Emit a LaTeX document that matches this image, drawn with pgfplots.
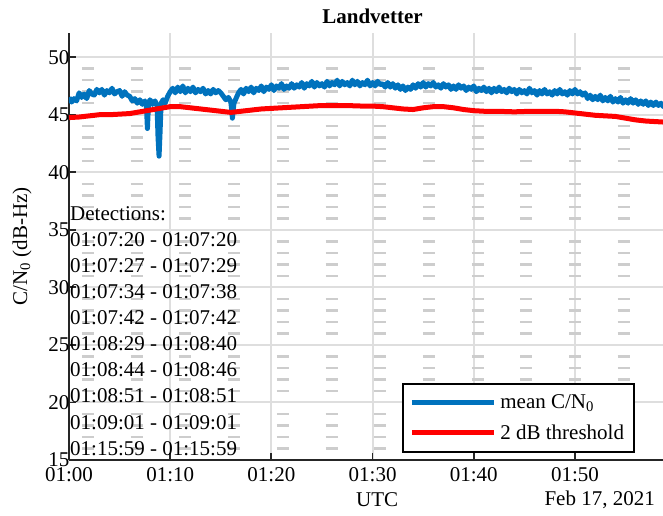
\documentclass[border=0pt]{standalone}
\usepackage{fontspec}
\setmainfont{Liberation Serif}
\usepackage{pgfplots}
\pgfplotsset{compat=1.18}
\definecolor{mblue}{RGB}{0,114,189}
\definecolor{gridmaj}{RGB}{222,222,222}
\definecolor{gridmin}{RGB}{205,205,205}
\newcommand\fs{\fontsize{21bp}{26bp}\selectfont}

\pgfplotstableread{
t cn0
0.00 46.5
0.25 46.1
0.50 46.4
0.75 46.2
1.00 46.9
1.25 46.5
1.50 46.8
1.75 46.4
2.00 47.1
2.25 46.8
2.50 46.7
2.75 47.2
3.00 46.9
3.25 47.2
3.50 46.7
3.75 47.1
4.00 46.9
4.25 47.3
4.50 46.8
4.75 47.0
5.00 47.1
5.25 46.6
5.50 47.0
5.75 46.7
6.00 46.6
6.25 46.2
6.50 46.4
6.75 46.0
7.00 46.3
7.25 45.9
7.50 46.2
7.65 45.8
7.75 43.8
7.85 45.9
8.00 46.3
8.25 45.9
8.50 46.2
8.70 45.8
8.80 43.0
8.90 41.4
9.00 43.5
9.10 46.0
9.30 46.3
9.50 46.0
9.75 46.6
10.00 47.0
10.25 47.3
10.50 46.9
10.75 47.4
11.00 47.0
11.25 47.5
11.50 46.9
11.75 47.3
12.00 47.0
12.25 47.4
12.50 46.9
12.75 47.2
13.00 47.0
13.25 47.3
13.50 46.8
13.75 47.1
14.00 46.8
14.25 47.2
14.50 46.9
14.75 47.1
15.00 46.9
15.25 46.6
15.50 46.3
15.75 46.5
16.00 46.1
16.15 44.7
16.30 46.0
16.50 46.4
16.75 46.9
17.00 47.2
17.25 46.8
17.50 47.3
17.75 47.0
18.00 47.4
18.25 46.9
18.50 47.3
18.75 47.1
19.00 47.5
19.25 47.0
19.50 47.4
19.75 47.2
20.00 47.6
20.25 47.1
20.50 47.5
20.75 47.3
21.00 47.7
21.25 47.2
21.50 47.5
21.75 47.3
22.00 47.7
22.25 47.3
22.50 47.6
22.75 47.4
23.00 47.8
23.25 47.3
23.50 47.7
23.75 47.5
24.00 47.9
24.25 47.4
24.50 47.8
24.75 47.5
25.00 47.7
25.25 47.4
25.50 47.9
25.75 47.5
26.00 47.8
26.25 47.6
26.50 48.0
26.75 47.5
27.00 47.9
27.25 47.6
27.50 47.8
27.75 47.5
28.00 48.0
28.25 47.6
28.50 47.9
28.75 47.5
29.00 47.8
29.25 47.6
29.50 48.0
29.75 47.5
30.00 47.8
30.25 47.5
30.50 47.9
30.75 47.6
31.00 47.7
31.25 47.4
31.50 47.8
31.75 47.4
32.00 47.7
32.25 47.3
32.50 47.6
32.75 47.2
33.00 47.5
33.25 47.1
33.50 47.4
33.75 47.2
34.00 47.6
34.25 47.3
34.50 47.7
34.75 47.4
35.00 47.8
35.25 47.4
35.50 47.7
35.75 47.5
36.00 47.8
36.25 47.4
36.50 47.6
36.75 47.3
37.00 47.7
37.25 47.4
37.50 47.6
37.75 47.2
38.00 47.5
38.25 47.2
38.50 47.6
38.75 47.3
39.00 47.5
39.25 47.1
39.50 47.4
39.75 47.2
40.00 47.5
40.25 47.0
40.50 47.3
40.75 47.1
41.00 47.4
41.25 47.0
41.50 47.3
41.75 46.9
42.00 47.3
42.25 47.0
42.50 47.4
42.75 47.0
43.00 47.2
43.25 46.9
43.50 47.3
43.75 47.0
44.00 47.2
44.25 46.8
44.50 47.2
44.75 46.9
45.00 47.1
45.25 46.8
45.50 47.3
45.75 46.9
46.00 47.1
46.25 46.7
46.50 47.1
46.75 46.8
47.00 47.2
47.25 46.8
47.50 47.0
47.75 46.7
48.00 47.1
48.25 46.8
48.50 47.2
48.75 46.8
49.00 47.0
49.25 46.7
49.50 47.1
49.75 46.8
50.00 47.2
50.25 46.8
50.50 47.0
50.75 46.7
51.00 46.9
51.25 46.4
51.50 46.7
51.75 46.3
52.00 46.6
52.25 46.3
52.50 46.7
52.75 46.2
53.00 46.5
53.25 46.2
53.50 46.6
53.75 46.1
54.00 46.4
54.25 46.1
54.50 46.5
54.75 46.0
55.00 46.3
55.25 46.0
55.50 46.4
55.75 46.0
56.00 46.3
56.25 45.9
56.50 46.2
56.75 45.9
57.00 46.2
57.25 45.8
57.50 46.1
57.75 45.8
58.00 46.1
58.25 45.8
58.50 46.0
58.75 45.7
59.00 46.0
59.25 45.7
59.50 45.9
59.75 45.7
60.00 45.9
}\meancn

\pgfplotstableread{
t thr
0 44.75
1 44.8
2 44.9
3 45.0
4 45.0
5 45.05
6 45.1
7 45.25
8 45.4
9 45.55
10 45.7
11 45.7
12 45.6
13 45.5
14 45.4
15 45.3
16 45.2
17 45.3
18 45.4
19 45.5
20 45.55
21 45.6
22 45.65
23 45.7
24 45.75
25 45.8
26 45.8
27 45.8
28 45.78
29 45.75
30 45.75
31 45.7
32 45.6
33 45.5
34 45.45
35 45.6
36 45.7
37 45.7
38 45.6
39 45.45
40 45.35
41 45.3
42 45.3
43 45.28
44 45.25
45 45.28
46 45.3
47 45.3
48 45.3
49 45.25
50 45.15
51 45.05
52 44.95
53 44.9
54 44.85
55 44.7
56 44.55
57 44.45
58 44.4
59 44.35
60 44.35
}\thresh

\begin{document}
\begin{tikzpicture}
  \path[use as bounding box] (-69bp,-56bp) rectangle (594bp,460bp);
  \begin{axis}[
    scale only axis,
    width=594bp, height=427bp,
    xmin=0, xmax=58.7, ymin=15, ymax=52.1,
    axis lines=left,
    axis line style={-, line width=2.4bp, black!85},
    xtick={0,10,20,30,40,50},
    xticklabels={01:00,01:10,01:20,01:30,01:40,01:50},
    ytick={15,20,...,50},
    minor y tick num=4,
    minor tick length=0pt,
    tick align=inside,
    major tick length=7bp,
    tick style={line width=1.8bp, black!85},
    /pgf/number format/assume math mode=true,
    tick label style={font=\fs},
    xticklabel style={yshift=-4bp},
    yticklabel style={xshift=4bp},
    xmajorgrids, ymajorgrids, yminorgrids,
    major grid style={gridmaj, line width=2bp},
    minor grid style={gridmin, line width=2.5bp, dash pattern=on 12bp off 36.7bp, dash phase=35.7bp},
    xlabel={UTC},
    xlabel style={font=\fs, at={(axis description cs:0.5189,-0.0937)}, anchor=center},
    ylabel={C/N\textsubscript{0} (dB-Hz)},
    ylabel style={font=\fs, at={(axis description cs:-0.0791,0.5)}, anchor=center},
    legend style={font=\fs, draw=black, line width=2bp, fill=white,
      at={(axis description cs:0.9529,0.0164)}, anchor=south east,
      inner xsep=6bp, inner ysep=7bp, row sep=7bp,
      nodes={inner sep=4bp}},
    legend cell align=left,
    legend image code/.code={\draw[#1] (0bp,0bp) -- (82bp,0bp);},
  ]
    \addplot[mblue, line width=5bp, line join=round] table[x=t, y=cn0] {\meancn};
    \addlegendentry{mean C/N\textsubscript{0}}
    \addplot[red, line width=5bp, line join=round] table[x=t, y=thr] {\thresh};
    \addlegendentry{2 dB threshold}
  \end{axis}
  \node[font=\fs\bfseries, anchor=base] at (303.5bp,436bp) {Landvetter};
  \node[font=\fs, anchor=east, inner sep=0pt] at (586bp,-40bp) {Feb 17, 2021};
  \foreach \s [count=\i from 0] in {Detections:,01:07:20 - 01:07:20,01:07:27 - 01:07:29,01:07:34 - 01:07:38,01:07:42 - 01:07:42,01:08:29 - 01:08:40,01:08:44 - 01:08:46,01:08:51 - 01:08:51,01:09:01 - 01:09:01,01:15:59 - 01:15:59}
    \node[font=\fs, anchor=base west, inner sep=0pt] at (1bp,{239bp-\i*26bp}) {\s};
\end{tikzpicture}
\end{document}
